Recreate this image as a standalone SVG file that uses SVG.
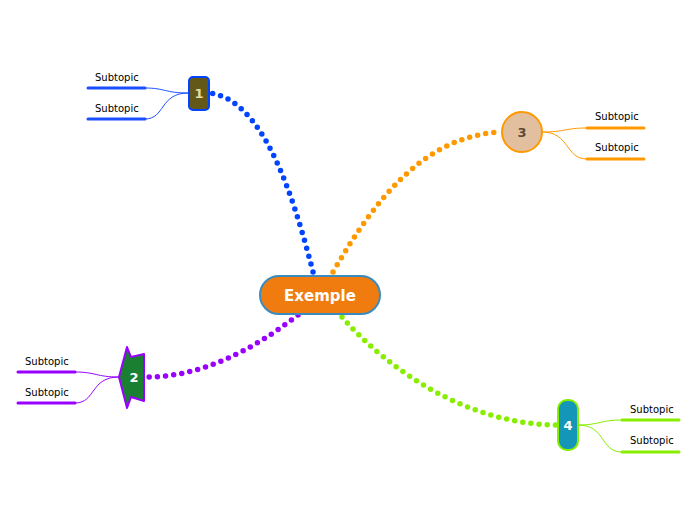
<svg xmlns="http://www.w3.org/2000/svg" width="696" height="520" viewBox="0 0 696 520">
<style>
.dot{fill:none;stroke-width:5.5;stroke-linecap:round;stroke-dasharray:0 8.2}
.thin{fill:none;stroke-width:1}
.ul{fill:none;stroke-width:3;stroke-linecap:round}
.st{font-family:"DejaVu Sans",sans-serif;font-size:10px;fill:#000}
.num{font-family:"DejaVu Sans",sans-serif;font-weight:bold;font-size:13px;text-anchor:middle}
</style>
<rect width="696" height="520" fill="#fff"/>
<g id="connectors">
<path class="dot" stroke="#0044ff" d="M313,272 C292,190 262,100 210,93"/>
<path class="dot" stroke="#ff9900" d="M333,272 C380,190 430,135 502,132"/>
<path class="dot" stroke="#9900ff" d="M298,315 C250,352 200,377 146,377"/>
<path class="dot" stroke="#88ee00" d="M342,317 C390,372 470,425 558,425"/>
<path class="thin" stroke="#1a4fff" d="M188,93 C165,93 165,88 145,88 M188,93 C160,93 165,119 145,119"/>
<path class="ul" stroke="#1a4fff" d="M88,88 H145 M88,119 H145"/>
<path class="thin" stroke="#ff9900" d="M542,132 C565,132 565,128 587,128 M542,132 C570,132 565,159 587,159"/>
<path class="ul" stroke="#ff9900" d="M587,128 H644 M587,159 H644"/>
<path class="thin" stroke="#9900ff" d="M119,377 C96,377 96,372 75,372 M119,377 C90,377 96,403 75,403"/>
<path class="ul" stroke="#9900ff" d="M18,372 H75 M18,403 H75"/>
<path class="thin" stroke="#88ee00" d="M578,425 C600,425 600,420 622,420 M578,425 C606,425 600,452 622,452"/>
<path class="ul" stroke="#88ee00" d="M622,420 H679 M622,452 H679"/>
</g>
<g id="central">
<rect x="260" y="276" width="120" height="38" rx="19" fill="#f07c10" stroke="#3a8bc0" stroke-width="2"/>
<text x="320" y="301" font-family="DejaVu Sans,sans-serif" font-weight="bold" font-size="15" fill="#fff" text-anchor="middle">Exemple</text>
</g>
<g id="node1">
<rect x="189" y="77" width="20" height="33" rx="4" fill="#645818" stroke="#0044ff" stroke-width="2"/>
<text class="num" x="199" y="98" fill="#e5dca0" font-size="12">1</text>
</g>
<g id="node2">
<path d="M127,347 L131,357 L144,354 L144,401 L131,397 L127,408 L119,377 Z" fill="#1a7f30" stroke="#9900ff" stroke-width="2" stroke-linejoin="round"/>
<text class="num" x="134" y="382" fill="#fff">2</text>
</g>
<g id="node3">
<circle cx="522" cy="132" r="20" fill="#e2bf9f" stroke="#ff9900" stroke-width="2"/>
<text class="num" x="522" y="137" fill="#5a4a3a">3</text>
</g>
<g id="node4">
<rect x="558" y="400" width="20" height="50" rx="9" fill="#1496b8" stroke="#88ee00" stroke-width="2"/>
<text class="num" x="568" y="430" fill="#fff">4</text>
</g>
<g id="subtopics">
<text class="st" x="95" y="81">Subtopic</text>
<text class="st" x="95" y="112">Subtopic</text>
<text class="st" x="595" y="120">Subtopic</text>
<text class="st" x="595" y="151">Subtopic</text>
<text class="st" x="25" y="365">Subtopic</text>
<text class="st" x="25" y="396">Subtopic</text>
<text class="st" x="630" y="413">Subtopic</text>
<text class="st" x="630" y="444">Subtopic</text>
</g>
</svg>
